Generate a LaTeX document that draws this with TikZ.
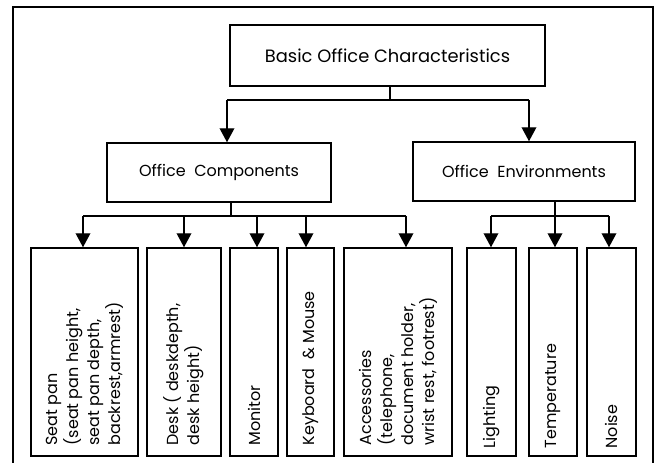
\documentclass[tikz,border=0pt]{standalone}
\usepackage{fontspec}
\setmainfont{Poppins}
\usetikzlibrary{arrows.meta}
\begin{document}
\begin{tikzpicture}[x=0.75pt,y=-0.75pt,
  box/.style={draw, line width=1.1pt, inner sep=0pt, font=\fontsize{12}{15}\selectfont},
  lbl/.style={rotate=90, anchor=west, align=left, inner sep=0pt, font=\fontsize{12}{15.75}\selectfont},
  conn/.style={line width=1.1pt},
  arr/.style={line width=1.1pt, -{Triangle[width=11pt,length=10.5pt]}}]
\useasboundingbox (0,0) rectangle (658,463);
\draw[line width=1.5pt] (13,463) -- (13,7.5) -- (652.5,7.5) -- (652.5,463);

% top level
\node[box, minimum width=236.25pt, minimum height=45.75pt, font=\fontsize{13.4}{16}\selectfont] (top) at (387.5,55.5) {Basic Office Characteristics};
\node[box, minimum width=168pt, minimum height=44.25pt] (oc) at (219,172.5) {Office\ \ Components};
\node[box, minimum width=166.5pt, minimum height=44.25pt] (oe) at (524,171.5) {Office\ \ Environments};

% bottom boxes
\node[box, minimum width=80.25pt, minimum height=156pt] (seat) at (84.5,352) {};
\node[box, minimum width=55.5pt, minimum height=156pt] (desk) at (184,352) {};
\node[box, minimum width=36pt, minimum height=156pt] (mon) at (254,352) {};
\node[box, minimum width=35.25pt, minimum height=156pt] (kbd) at (310.5,352) {};
\node[box, minimum width=81pt, minimum height=156pt] (acc) at (398,352) {};
\node[box, minimum width=36.75pt, minimum height=156pt] (lig) at (491.5,352) {};
\node[box, minimum width=36pt, minimum height=156pt] (tem) at (553,352) {};
\node[box, minimum width=36.75pt, minimum height=156pt] (noi) at (611.5,352) {};

\node[lbl] (seat-t) at ([yshift=8.25pt]seat.south) {Seat pan\\(seat pan height,\\seat pan depth,\\backrest,armrest)};
\node[lbl] (desk-t) at ([yshift=8.25pt]desk.south) {Desk ( deskdepth,\\desk height)};
\node[lbl] (mon-t) at ([yshift=8.25pt]mon.south) {Monitor};
\node[lbl] (kbd-t) at ([yshift=8.25pt]kbd.south) {Keyboard\ \ \& Mouse};
\node[lbl] (acc-t) at ([yshift=8.25pt]acc.south) {Accessories\\(telephone,\\document holder,\\wrist rest, footrest)};
\node[lbl] (lig-t) at ([yshift=6pt]lig.south) {Lighting};
\node[lbl] (tem-t) at ([yshift=6pt]tem.south) {Temperature};
\node[lbl] (noi-t) at ([yshift=6pt]noi.south) {Noise};

% level 1 connectors
\coordinate (td) at (390,100);
\coordinate (ta) at (227,100);
\coordinate (tb) at (529,100);
\draw[conn] (td |- top.south) -- (td);
\draw[conn] (ta) -- (tb);
\draw[arr] (ta) -- (ta |- oc.north);
\draw[arr] (tb) -- (tb |- oe.north);

% office components connectors
\coordinate (cd) at (231,216);
\coordinate (c1) at (83,216);
\coordinate (c2) at (184,216);
\coordinate (c3) at (257,216);
\coordinate (c4) at (306,216);
\coordinate (c5) at (406,216);
\draw[conn] (cd |- oc.south) -- (cd);
\draw[conn] (c1) -- (c5);
\draw[arr] (c1) -- (c1 |- seat.north);
\draw[arr] (c2) -- (c2 |- desk.north);
\draw[arr] (c3) -- (c3 |- mon.north);
\draw[arr] (c4) -- (c4 |- kbd.north);
\draw[arr] (c5) -- (c5 |- acc.north);

% office environments connectors
\coordinate (ed) at (555,216);
\coordinate (e1) at (491,216);
\coordinate (e2) at (555,216);
\coordinate (e3) at (609,216);
\draw[conn] (ed |- oe.south) -- (ed);
\draw[conn] (e1) -- (e3);
\draw[arr] (e1) -- (e1 |- lig.north);
\draw[arr] (e2) -- (e2 |- tem.north);
\draw[arr] (e3) -- (e3 |- noi.north);
\end{tikzpicture}
\end{document}
